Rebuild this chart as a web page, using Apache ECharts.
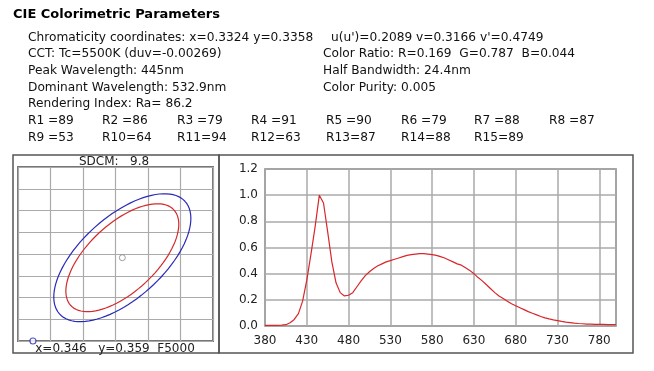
<!DOCTYPE html>
<html><head><meta charset="utf-8">
<script src="https://cdn.jsdelivr.net/npm/echarts@6/dist/echarts.min.js"></script>
<style>html,body{margin:0;padding:0;background:#fff}#c{width:654px;height:371px}</style>
</head><body><div id="c"></div>
<script>
// ---- data ----
const wavelengths = [380,385,390,395,400,405,410,415,420,425,430,435,440,445,450,455,460,465,470,475,480,485,490,495,500,505,510,515,520,525,530,535,540,545,550,555,560,565,570,575,580,585,590,595,600,605,610,615,620,625,630,635,640,645,650,655,660,665,670,675,680,685,690,695,700,705,710,715,720,725,730,735,740,745,750,755,760,765,770,775,780,785,790,795,800];
const intensity = [0.005,0.005,0.005,0.005,0.006,0.010,0.025,0.050,0.095,0.190,0.350,0.550,0.760,1.000,0.940,0.720,0.490,0.330,0.255,0.230,0.235,0.255,0.300,0.345,0.385,0.415,0.440,0.460,0.475,0.490,0.500,0.510,0.520,0.530,0.540,0.545,0.550,0.553,0.553,0.550,0.545,0.540,0.530,0.520,0.505,0.490,0.475,0.465,0.445,0.425,0.400,0.370,0.345,0.315,0.285,0.255,0.230,0.210,0.190,0.170,0.155,0.140,0.125,0.110,0.097,0.085,0.073,0.062,0.054,0.047,0.041,0.035,0.030,0.026,0.022,0.019,0.017,0.015,0.014,0.013,0.012,0.012,0.011,0.011,0.011];
const xTicks = [380,430,480,530,580,630,680,730,780];
const yTicks = [0.0,0.2,0.4,0.6,0.8,1.0,1.2];

// ellipse panel (grid units): center, conjugate semi-diameters u, v
const ellipseCenter = [3.21, 3.83];
const ellipseOuter = [1.934, 2.583, 0.841, -1.406];
const ellipseInner = [1.585, 2.200, 0.712, -1.145];
const measuredPoint = [0.46, 0];

const titleText = 'CIE Colorimetric Parameters';
const leftLines = [
  'Chromaticity coordinates: x=0.3324 y=0.3358',
  'CCT: Tc=5500K (duv=-0.00269)',
  'Peak Wavelength: 445nm',
  'Dominant Wavelength: 532.9nm',
  'Rendering Index: Ra= 86.2'
];
const rightLines = [
  "u(u')=0.2089 v=0.3166 v'=0.4749",
  'Color Ratio: R=0.169  G=0.787  B=0.044',
  'Half Bandwidth: 24.4nm',
  'Color Purity: 0.005'
];
const rLabels = ['R1 =89','R2 =86','R3 =79','R4 =91','R5 =90','R6 =79','R7 =88','R8 =87',
                 'R9 =53','R10=64','R11=94','R12=63','R13=87','R14=88','R15=89'];
const sdcmText = 'SDCM:   9.8';
const refText = 'x=0.346   y=0.359  F5000';

// ---- layout ----
const FONT = '"DejaVu Sans", Verdana, sans-serif';
const BODY = '12.2px ' + FONT;
const lineY = [38.3, 54.3, 71, 87.7, 104.3, 121, 137.7];
const rColX = [28, 102, 177, 251, 326, 401, 474, 549];

const graphics = [];
function txt(s, x, y, opts) {
  graphics.push(Object.assign({
    type: 'text', x: x, y: y, silent: true,
    style: { text: s, font: BODY, fill: '#111', verticalAlign: 'middle', textAlign: 'left' }
  }, opts || {}));
}
txt(titleText, 13, 15, { style: { text: titleText, font: 'bold 13px ' + FONT, fill: '#000', verticalAlign: 'middle' } });
leftLines.forEach((s, i) => txt(s, 28, lineY[i]));
rightLines.forEach((s, i) => txt(s, i === 0 ? 331 : 323, lineY[i]));
rLabels.forEach((s, i) => txt(s, rColX[i % 8], lineY[5 + Math.floor(i / 8)]));

// panel boxes
graphics.push({ type: 'rect', silent: true, z: -1, shape: { x: 13, y: 155, width: 206, height: 198 }, style: { fill: 'none', stroke: '#555', lineWidth: 1.5 } });
graphics.push({ type: 'rect', silent: true, z: -1, shape: { x: 219, y: 155, width: 414, height: 198 }, style: { fill: 'none', stroke: '#555', lineWidth: 1.5 } });
txt(sdcmText, 114, 162, { z: 10, style: { text: sdcmText, font: '12px ' + FONT, fill: '#222', verticalAlign: 'middle', textAlign: 'center' } });
txt(refText, 115, 349, { style: { text: refText, font: '12px ' + FONT, fill: '#222', verticalAlign: 'middle', textAlign: 'center' } });

function ellipseItem(c, e) { return [c[0], c[1], e[0], e[1], e[2], e[3]]; }
function renderEllipse(params, api) {
  const cx = api.value(0), cy = api.value(1);
  const c = api.coord([cx, cy]);
  const pu = api.coord([cx + api.value(2), cy + api.value(3)]);
  const pv = api.coord([cx + api.value(4), cy + api.value(5)]);
  const U = [pu[0] - c[0], pu[1] - c[1]], V = [pv[0] - c[0], pv[1] - c[1]];
  const pts = [];
  for (let k = 0; k <= 96; k++) {
    const t = k / 96 * Math.PI * 2;
    pts.push([c[0] + U[0] * Math.cos(t) + V[0] * Math.sin(t), c[1] + U[1] * Math.cos(t) + V[1] * Math.sin(t)]);
  }
  return { type: 'polyline', shape: { points: pts }, style: { stroke: api.visual('color'), lineWidth: 1.2, fill: null } };
}

const chart = echarts.init(document.getElementById('c'), null, { renderer: 'canvas' });
chart.setOption({
  animation: false,
  backgroundColor: '#fff',
  textStyle: { fontFamily: FONT },
  graphic: graphics,
  grid: [
    { left: 18, top: 167, width: 195, height: 174, show: true, borderColor: '#777', borderWidth: 2, backgroundColor: 'transparent' },
    { left: 265, top: 169, width: 351, height: 157, show: true, borderColor: '#777', borderWidth: 1.5, backgroundColor: 'transparent' }
  ],
  xAxis: [
    { gridIndex: 0, type: 'value', min: 0, max: 6, interval: 1, axisLabel: { show: false }, axisTick: { show: false }, axisLine: { show: false },
      splitLine: { show: true, lineStyle: { color: '#aaa', width: 1.2 } } },
    { gridIndex: 1, type: 'value', min: 380, max: 800, interval: 50,
      axisLabel: { show: true, color: '#222', fontSize: 12, fontFamily: FONT, margin: 9, customValues: xTicks },
      axisTick: { show: false }, axisLine: { show: false },
      splitLine: { show: true, lineStyle: { color: '#aaa', width: 1.5 } } }
  ],
  yAxis: [
    { gridIndex: 0, type: 'value', min: 0, max: 8, interval: 1, axisLabel: { show: false }, axisTick: { show: false }, axisLine: { show: false },
      splitLine: { show: true, lineStyle: { color: '#aaa', width: 1.2 } } },
    { gridIndex: 1, type: 'value', min: 0, max: 1.2, interval: 0.2,
      axisLabel: { color: '#222', fontSize: 12, fontFamily: FONT, margin: 7, formatter: v => v.toFixed(1), customValues: yTicks },
      axisTick: { show: false }, axisLine: { show: false },
      splitLine: { show: true, lineStyle: { color: '#aaa', width: 1.5 } } }
  ],
  series: [
    { type: 'custom', xAxisIndex: 0, yAxisIndex: 0, renderItem: renderEllipse, color: '#2a2ab8',
      data: [ellipseItem(ellipseCenter, ellipseOuter)], encode: { x: 0, y: 1 }, clip: false, silent: true },
    { type: 'custom', xAxisIndex: 0, yAxisIndex: 0, renderItem: renderEllipse, color: '#d42a2a',
      data: [ellipseItem(ellipseCenter, ellipseInner)], encode: { x: 0, y: 1 }, clip: false, silent: true },
    { type: 'scatter', xAxisIndex: 0, yAxisIndex: 0, symbol: 'circle', symbolSize: 6, clip: false, silent: true,
      itemStyle: { color: '#fff', borderColor: '#888', borderWidth: 1 }, data: [ellipseCenter] },
    { type: 'scatter', xAxisIndex: 0, yAxisIndex: 0, symbol: 'circle', symbolSize: 6, clip: false, silent: true, z: 5,
      itemStyle: { color: '#fff', borderColor: '#2a2ab8', borderWidth: 1.2 }, data: [measuredPoint] },
    { type: 'line', xAxisIndex: 1, yAxisIndex: 1, showSymbol: false, smooth: false, silent: true,
      lineStyle: { color: '#d8262a', width: 1.2 },
      data: wavelengths.map((w, i) => [w, intensity[i]]) }
  ]
});
</script></body></html>
